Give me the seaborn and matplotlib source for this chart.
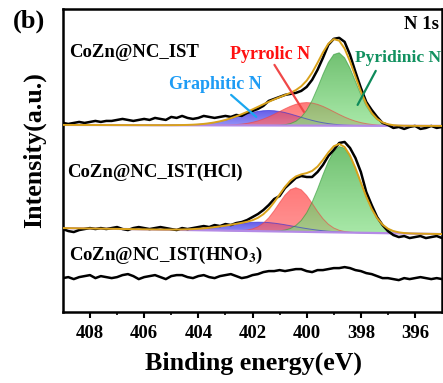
import numpy as np
import matplotlib
matplotlib.use("Agg")
import matplotlib.pyplot as plt
import seaborn as sns
from matplotlib.colors import LinearSegmentedColormap

energy = np.arange(409.0, 394.99, -0.2)

# measured spectra (a.u., already offset for stacking)
ist = [189, 188, 189, 190, 189, 190, 191, 190, 191, 191,
       192, 193, 192, 191, 192, 193, 192, 194, 193, 192,
       195, 194, 196, 194, 193, 194, 196, 195, 194, 195,
       196, 195, 197, 196, 199, 201, 203, 206, 211, 213,
       215, 217, 218, 219, 221, 225, 232, 242, 254, 267,
       273, 274, 270, 257, 240, 224, 210, 202, 195, 189,
       187, 184, 185, 183, 185, 186, 183, 184, 186, 184, 185]
ist_hcl = [83, 81, 80, 82, 83, 84, 83, 84, 83, 84,
           85, 83, 82, 84, 85, 84, 83, 84, 85, 84,
           83, 82, 84, 83, 84, 85, 86, 85, 87, 86,
           88, 87, 89, 90, 92, 95, 98, 102, 107, 113,
           116, 124, 129, 134, 136, 135, 135, 140, 147, 156,
           162, 169, 170, 164, 154, 140, 120, 107, 95, 87,
           81, 77, 75, 76, 74, 75, 76, 74, 75, 76, 74]
ist_hno3 = [34, 35, 33, 35, 36, 37, 34, 36, 35, 34,
            35, 37, 38, 36, 33, 35, 36, 37, 35, 33,
            36, 37, 37, 35, 34, 36, 37, 35, 34, 36,
            37, 38, 36, 34, 35, 37, 38, 40, 41, 41,
            42, 41, 42, 43, 43, 41, 40, 42, 42, 43,
            44, 44, 45, 44, 42, 41, 39, 38, 36, 34,
            34, 33, 32, 34, 33, 34, 35, 34, 33, 34, 33]

# fitted components: centre (eV), height, sigma (eV)  -> graphitic, pyrrolic, pyridinic
ist_centers = [401.4, 400.0, 398.85]
ist_heights = [15, 23, 73]
ist_sigmas = [1.1, 1.0, 0.65]
ist_bg = [187, 186]          # background at 409 and 395 eV

hcl_centers = [401.7, 400.4, 398.75]
hcl_heights = [9, 44, 86]
hcl_sigmas = [1.2, 0.65, 0.72]
hcl_bg = [84, 78]

# gradient fills (top colour, bottom colour) and edge colours
comp_grads = [('#2a1ee0', '#6a6af5'), ('#ff4545', '#ff6a6a'), ('#3aa83a', '#86e086')]
comp_edges = ['#2a2ad8', '#f04040', '#2f9a35']

sns.set_theme(style='ticks')
plt.rcParams['font.family'] = ['Liberation Serif', 'DejaVu Serif']
plt.rcParams['font.weight'] = 'bold'
plt.rcParams['text.color'] = 'black'
plt.rcParams['axes.labelcolor'] = 'black'
plt.rcParams['xtick.color'] = 'black'
plt.rcParams['mathtext.fontset'] = 'stix'
plt.rcParams['mathtext.default'] = 'bf'

fig = plt.figure(figsize=(4.43, 3.83), dpi=100)
ax = fig.add_axes([0.142, 0.185, 0.856, 0.792])
ax.set_xlim(409, 395)
ax.set_ylim(0, 303)


def draw_fit(ax, centers, heights, sigmas, bg):
    base = np.linspace(bg[0], bg[1], len(energy))
    total = base.copy()
    for c, h, s, (top, bot), ec in zip(centers, heights, sigmas, comp_grads, comp_edges):
        comp = h * np.exp(-(energy - c) ** 2 / (2 * s ** 2))
        poly = ax.fill_between(energy, base, base + comp, color='none', lw=0)
        cmap = LinearSegmentedColormap.from_list('g', [bot, top])
        y0, y1 = base.min(), (base + comp).max()
        img = ax.imshow(np.linspace(0, 1, 64).reshape(-1, 1), cmap=cmap, aspect='auto',
                        origin='lower', extent=[409, 395, y0, y1], alpha=0.72, zorder=1)
        img.set_clip_path(poly.get_paths()[0], transform=ax.transData)
        ax.plot(energy, base + comp, color=ec, lw=0.7, alpha=0.6, zorder=1.5)
        total += comp
    ax.plot(energy, base, color='#b48ae6', lw=1.6, zorder=2)
    return total


fit_top = draw_fit(ax, ist_centers, ist_heights, ist_sigmas, ist_bg)
fit_mid = draw_fit(ax, hcl_centers, hcl_heights, hcl_sigmas, hcl_bg)

for y in [ist, ist_hcl, ist_hno3]:
    sns.lineplot(x=energy, y=y, color='black', lw=1.8, ax=ax, sort=False, zorder=3)
ax.plot(energy, fit_top, color='#d9a21b', lw=1.4, zorder=4)
ax.plot(energy, fit_mid, color='#d9a21b', lw=1.4, zorder=4)

# labels
ax.text(408.78, 259, 'CoZn@NC_IST', fontsize=13.5, fontweight='bold', va='center', ha='left')
ax.text(408.85, 140, 'CoZn@NC_IST(HCl)', fontsize=13.5, fontweight='bold', va='center', ha='left')
ax.text(408.78, 57, 'CoZn@NC_IST(HNO$_3$)', fontsize=13.5, fontweight='bold', va='center', ha='left')
ax.text(395.12, 287, 'N 1s', fontsize=13.5, fontweight='bold', va='center', ha='right')
ax.text(401.37, 257, 'Pyrrolic N', fontsize=13, fontweight='bold', color='#ff1010', va='center', ha='center')
ax.text(396.62, 254, 'Pyridinic N', fontsize=12.6, fontweight='bold', color='#129160', va='center', ha='center')
ax.text(403.36, 227, 'Graphitic N', fontsize=13, fontweight='bold', color='#1e9cf5', va='center', ha='center')
ax.plot([402.79, 401.86], [217, 195], color='#1aa7f0', lw=1.6, zorder=5)
ax.plot([401.19, 400.10], [247, 200], color='#f04848', lw=1.6, zorder=5)
ax.plot([397.45, 398.12], [241, 207], color='#0e8a5a', lw=1.6, zorder=5)

ax.set_xticks(np.arange(408, 395, -2))
ax.set_xticks(np.arange(407, 395, -2), minor=True)
ax.set_yticks([])
ax.tick_params(axis='x', which='major', direction='out', length=4, width=1.5, labelsize=13.5, pad=5)
ax.tick_params(axis='x', which='minor', direction='out', length=2, width=1.2)
for lab in ax.get_xticklabels():
    lab.set_fontweight('bold')
for sp in ax.spines.values():
    sp.set_linewidth(1.8)
    sp.set_color('black')

ax.set_xlabel('Binding energy(eV)', fontsize=18.7, fontweight='bold', va='top')
ax.xaxis.set_label_coords(0.503, -0.13)
ax.set_ylabel('Intensity(a.u.)', fontsize=18.6, fontweight='bold')
ax.yaxis.set_label_coords(-0.045, 0.535)
fig.text(0.03, 0.945, '(b)', fontsize=19, fontweight='bold', va='center', ha='left')

fig.savefig('out.png', dpi=100)
